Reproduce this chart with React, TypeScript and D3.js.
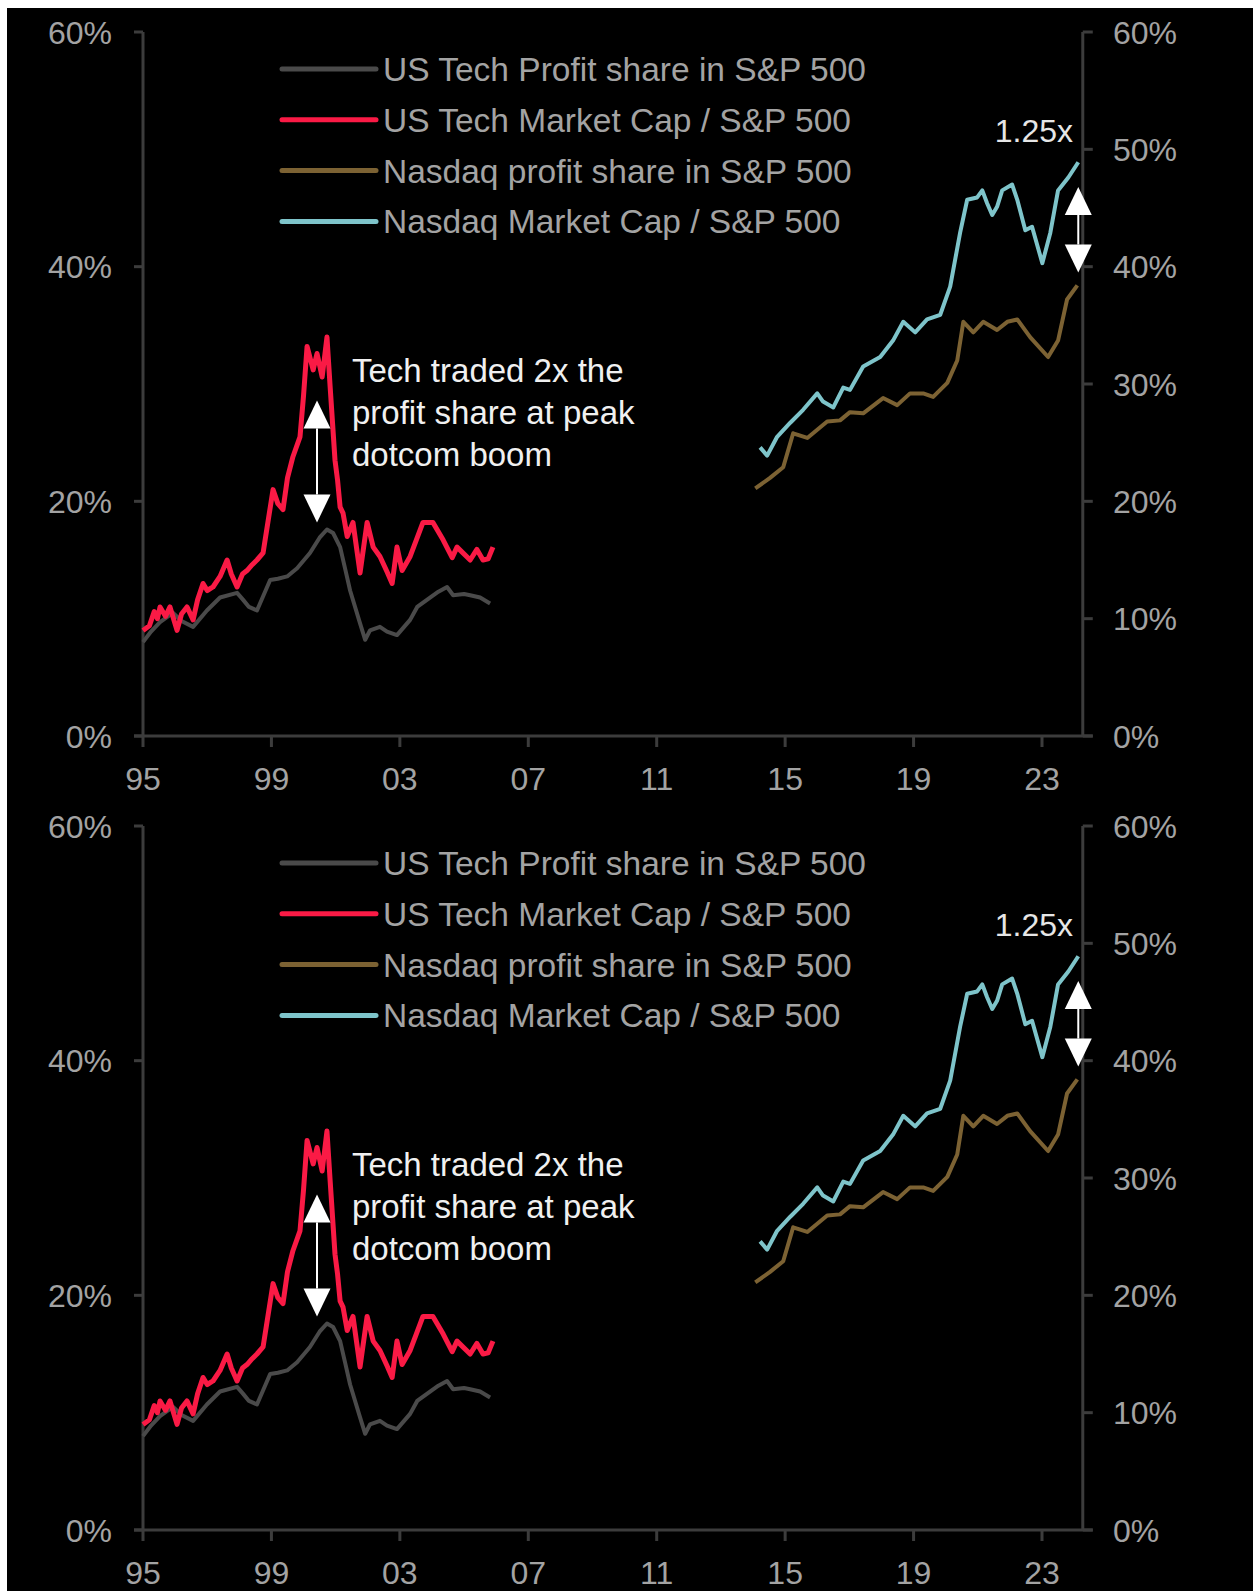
import React, { useLayoutEffect } from "react";
import * as d3 from "d3";

// [decimal year, % share]
const techProfitShare: [number, number][] = [
  [1995.0, 8.0], [1995.25, 8.9], [1995.53, 9.7], [1995.93, 10.5], [1996.2, 9.8], [1996.56, 9.3],
  [1996.99, 10.7], [1997.4, 11.8], [1997.93, 12.2], [1998.12, 11.6], [1998.3, 11.0], [1998.55, 10.7],
  [1998.96, 13.3], [1999.2, 13.4], [1999.49, 13.6], [1999.8, 14.3], [2000.2, 15.6], [2000.5, 16.9],
  [2000.73, 17.6], [2000.92, 17.3], [2001.14, 16.1], [2001.3, 14.2], [2001.45, 12.4], [2001.76, 9.6],
  [2001.92, 8.2], [2002.07, 9.0], [2002.38, 9.3], [2002.6, 8.9], [2002.91, 8.6], [2003.32, 9.9],
  [2003.54, 11.0], [2003.94, 11.8], [2004.2, 12.3], [2004.47, 12.7], [2004.66, 12.0], [2005.0, 12.1],
  [2005.19, 12.0], [2005.5, 11.8], [2005.81, 11.3],
];

const techMarketCap: [number, number][] = [
  [1995.0, 9.0], [1995.2, 9.4], [1995.35, 10.6], [1995.45, 10.0], [1995.53, 11.0], [1995.7, 10.2],
  [1995.84, 11.0], [1996.06, 9.0], [1996.2, 10.4], [1996.37, 11.0], [1996.56, 9.9], [1996.7, 11.6],
  [1996.87, 13.0], [1997.0, 12.4], [1997.18, 12.7], [1997.4, 13.6], [1997.62, 15.0], [1997.75, 13.8],
  [1997.93, 12.7], [1998.1, 13.8], [1998.24, 14.1], [1998.4, 14.6], [1998.55, 15.0], [1998.74, 15.6],
  [1999.05, 21.0], [1999.2, 19.8], [1999.36, 19.3], [1999.5, 22.0], [1999.67, 23.8], [1999.89, 25.5],
  [2000.0, 29.0], [2000.11, 33.2], [2000.3, 31.2], [2000.42, 32.6], [2000.58, 30.6], [2000.73, 34.0],
  [2000.83, 29.7], [2000.98, 23.5], [2001.06, 21.8], [2001.14, 19.5], [2001.23, 19.0], [2001.36, 17.0],
  [2001.54, 18.2], [2001.76, 13.9], [2001.98, 18.2], [2002.17, 16.1], [2002.38, 15.3], [2002.6, 14.0],
  [2002.76, 13.0], [2002.91, 16.1], [2003.07, 14.1], [2003.32, 15.3], [2003.5, 16.6], [2003.72, 18.2],
  [2004.03, 18.2], [2004.35, 16.7], [2004.63, 15.2], [2004.78, 16.1], [2005.19, 15.0], [2005.4, 15.9],
  [2005.59, 15.0], [2005.75, 15.1], [2005.9, 16.1],
];

const nasdaqProfitShare: [number, number][] = [
  [2014.07, 21.1], [2014.53, 22.0], [2014.94, 22.9], [2015.25, 25.8], [2015.69, 25.4], [2016.31, 26.8],
  [2016.71, 26.9], [2017.02, 27.6], [2017.43, 27.5], [2018.05, 28.8], [2018.49, 28.2], [2018.89, 29.2],
  [2019.3, 29.2], [2019.61, 28.9], [2020.05, 30.1], [2020.36, 32.0], [2020.55, 35.3], [2020.86, 34.4],
  [2021.17, 35.3], [2021.6, 34.6], [2021.92, 35.3], [2022.23, 35.5], [2022.63, 34.0], [2023.19, 32.3],
  [2023.5, 33.7], [2023.78, 37.2], [2024.1, 38.4],
];

const nasdaqMarketCap: [number, number][] = [
  [2014.22, 24.6], [2014.44, 23.9], [2014.75, 25.5], [2015.16, 26.7], [2015.56, 27.8], [2016.0, 29.2],
  [2016.18, 28.5], [2016.5, 28.0], [2016.81, 29.7], [2017.02, 29.5], [2017.43, 31.5], [2017.96, 32.3],
  [2018.36, 33.7], [2018.68, 35.3], [2019.05, 34.4], [2019.42, 35.5], [2019.83, 35.9], [2020.14, 38.3],
  [2020.45, 42.9], [2020.67, 45.7], [2020.98, 45.9], [2021.14, 46.5], [2021.29, 45.4], [2021.45, 44.4],
  [2021.6, 45.1], [2021.76, 46.5], [2022.07, 47.0], [2022.23, 45.7], [2022.48, 43.1], [2022.69, 43.4],
  [2023.01, 40.3], [2023.26, 42.9], [2023.5, 46.5], [2023.82, 47.6], [2024.13, 48.9],
];

const xTicks = [1995, 1999, 2003, 2007, 2011, 2015, 2019, 2023];
const leftTicks = [0, 20, 40, 60];
const rightTicks = [0, 10, 20, 30, 40, 50, 60];

const legendLabels = [
  "US Tech Profit share in S&P 500",
  "US Tech Market Cap / S&P 500",
  "Nasdaq profit share in S&P 500",
  "Nasdaq Market Cap / S&P 500",
];
const legendColors = ["#4a4a4a", "#fa1a45", "#7c6233", "#7ec4ca"];

const noteLines = ["Tech traded 2x the", "profit share at peak", "dotcom boom"];
const dotcomArrow = { year: 2000.42, low: 18.2, high: 28.6 };
const nasdaqArrow = { year: 2024.13, low: 39.5, high: 46.8 };

const FONT = "'Liberation Sans', Arial, sans-serif";
const AXIS = "#3c3c3c";
const LABEL = "#a3a3a3";
const W = 1253;
const H = 1591;

const x = d3.scaleLinear().domain([1995, 2023]).range([143, 1042]);
const y = d3.scaleLinear().domain([0, 60]).range([736, 32]);
const rightEdge = 2024.27;

const line = d3
  .line<[number, number]>()
  .x((d) => x(d[0]))
  .y((d) => y(d[1]));

function Arrow({ a }: { a: { year: number; low: number; high: number } }) {
  const cx = x(a.year);
  const top = y(a.high);
  const bot = y(a.low);
  const head = 28;
  const hw = 13.5;
  return (
    <g fill="#fff">
      <line x1={cx} x2={cx} y1={top + head} y2={bot - head} stroke="#fff" strokeWidth={2} />
      <path d={`M${cx},${top}L${cx + hw},${top + head}L${cx - hw},${top + head}Z`} />
      <path d={`M${cx},${bot}L${cx + hw},${bot - head}L${cx - hw},${bot - head}Z`} />
    </g>
  );
}

function Panel({ dy }: { dy: number }) {
  const x0 = x(1995);
  const x1 = x(rightEdge);
  return (
    <g transform={`translate(0,${dy})`} fontFamily={FONT}>
      {/* axes */}
      <line x1={x0} x2={x0} y1={y(60)} y2={y(0)} stroke={AXIS} strokeWidth={3} />
      <line x1={x1} x2={x1} y1={y(60)} y2={y(0)} stroke={AXIS} strokeWidth={3} />
      <line x1={x0 - 9} x2={x1 + 10} y1={y(0)} y2={y(0)} stroke={AXIS} strokeWidth={3} />
      {leftTicks.map((t) => (
        <g key={"l" + t}>
          <line x1={x0 - 9} x2={x0} y1={y(t)} y2={y(t)} stroke={AXIS} strokeWidth={3} />
          <text x={112} y={y(t) + 11.5} textAnchor="end" fontSize={32} fill={LABEL}>
            {t}%
          </text>
        </g>
      ))}
      {rightTicks.map((t) => (
        <g key={"r" + t}>
          <line x1={x1} x2={x1 + 10} y1={y(t)} y2={y(t)} stroke={AXIS} strokeWidth={3} />
          <text x={1113} y={y(t) + 11.5} fontSize={32} fill={LABEL}>
            {t}%
          </text>
        </g>
      ))}
      {xTicks.map((t) => (
        <g key={"x" + t}>
          <line x1={x(t)} x2={x(t)} y1={y(0)} y2={y(0) + 11} stroke={AXIS} strokeWidth={3} />
          <text x={x(t)} y={790} textAnchor="middle" fontSize={32} fill={LABEL}>
            {String(t % 100).padStart(2, "0")}
          </text>
        </g>
      ))}

      {/* series */}
      <path d={line(techProfitShare) || ""} fill="none" stroke={legendColors[0]} strokeWidth={4} strokeLinejoin="round" />
      <path d={line(techMarketCap) || ""} fill="none" stroke={legendColors[1]} strokeWidth={5} strokeLinejoin="round" />
      <path d={line(nasdaqProfitShare) || ""} fill="none" stroke={legendColors[2]} strokeWidth={4} strokeLinejoin="round" />
      <path d={line(nasdaqMarketCap) || ""} fill="none" stroke={legendColors[3]} strokeWidth={4} strokeLinejoin="round" />

      {/* legend */}
      {legendLabels.map((lab, i) => {
        const ly = 69 + i * 50.8;
        return (
          <g key={lab}>
            <line x1={282} x2={376} y1={ly} y2={ly} stroke={legendColors[i]} strokeWidth={5} strokeLinecap="round" />
            <text x={383} y={ly + 12} fontSize={33.5} fill={LABEL}>
              {lab}
            </text>
          </g>
        );
      })}

      {/* annotations */}
      <Arrow a={dotcomArrow} />
      <Arrow a={nasdaqArrow} />
      {noteLines.map((t, i) => (
        <text key={t} x={352} y={382 + i * 42} fontSize={33} fill="#f0f0f0">
          {t}
        </text>
      ))}
      <text x={1073} y={142} textAnchor="end" fontSize={32} fill="#e6e6e6">
        1.25x
      </text>
    </g>
  );
}

export default function App() {
  useLayoutEffect(() => {
    document.documentElement.style.overflow = "hidden";
  }, []);
  return (
    <svg
      width={W}
      height={H}
      style={{ position: "absolute", left: 0, top: 0, display: "block" }}
    >
      <rect x={0} y={0} width={W} height={H} fill="#fff" />
      <rect x={7} y={8} width={W - 7} height={H - 8} fill="#000" />
      <Panel dy={0} />
      <Panel dy={794} />
    </svg>
  );
}
